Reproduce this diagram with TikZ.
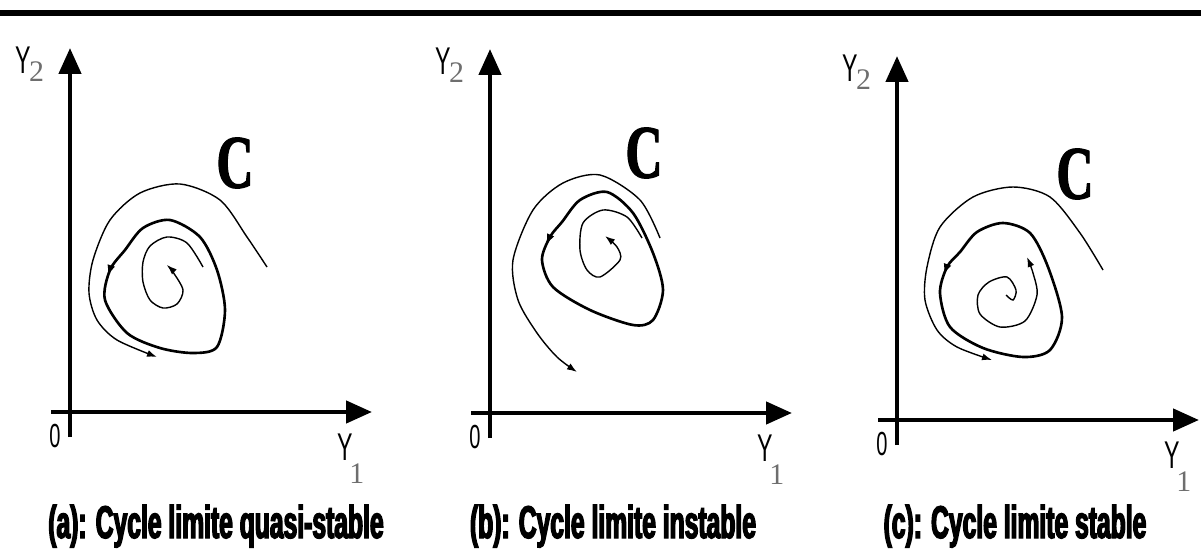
\documentclass[tikz,border=0pt]{standalone}
\usepackage{fontspec}
\usetikzlibrary{arrows.meta,decorations.markings}
\newfontfamily\capfont{Liberation Sans}[FakeStretch=0.54,FakeBold=3]
\newfontfamily\axfont{Liberation Sans}[FakeStretch=0.6]
\newfontfamily\digfont{Liberation Serif}
\newfontfamily\cfont{Liberation Serif}[FakeStretch=0.68,FakeBold=1.5]
\definecolor{subgray}{HTML}{6E6E6E}

\begin{document}
\begin{tikzpicture}[x=0.02cm, y=0.02cm,
  axis/.style={line width=0.09cm, -{Triangle[length=0.52cm,width=0.44cm]}},
  orbit/.style={line width=0.8pt, -{Latex[length=0.2cm,width=0.14cm]}},
  limcycle/.style={line width=1.5pt},
  midarrow/.style={postaction=decorate, decoration={markings, mark=at position #1 with {\arrow{Latex[length=0.22cm,width=0.16cm]}}}},
  lbl/.style={inner sep=0pt},
  caption/.style={inner sep=0pt, anchor=base, font=\capfont\bfseries\fontsize{26}{26}\selectfont}]
  \useasboundingbox (0,0) rectangle (1201,549);
  \draw[line width=0.12cm] (0,536) -- (1201,536);

  % axes and their labels, one set per panel
  \foreach \ox/\oy/\p/\cx/\cy in {70/137/a/165/249, 490/136/b/154/260, 897/129/c/178/246} {
    \begin{scope}[shift={(\ox,\oy)}]
      \draw[axis] (-19,0) -- (302,0);
      \draw[axis] (0,-25) -- (0,364);
      \node[lbl] (zero-\p) at (-15,-24) {\axfont\fontsize{19}{19}\selectfont 0};
      \node[lbl, anchor=base west] (ytwo-\p) at (-55,339)
        {\axfont\fontsize{22}{22}\selectfont Y\kern-1pt\raisebox{-5pt}{\digfont\fontsize{17}{17}\selectfont\color{subgray}2}};
      \node[lbl, anchor=base west] (yone-\p) at (267,-48)
        {\axfont\fontsize{22}{22}\selectfont Y\kern-2pt\raisebox{-13.5pt}{\digfont\fontsize{17}{17}\selectfont\color{subgray}1}};
      \node[lbl] (clab-\p) at (\cx,\cy) {\cfont\bfseries\fontsize{43}{43}\selectfont C};
    \end{scope}
  }

  % (a) quasi-stable
  \begin{scope}[shift={(70,137)}]
    \draw[orbit] plot[smooth] coordinates {(197,145) (177,175) (150,212) (110,228) (70,219) (40,192) (23,152) (19,119) (27,92) (47,72) (87,55)};
    \draw[limcycle, midarrow=0.15] plot[smooth cycle] coordinates {(100,192) (73,184) (55,162) (40,142) (35,112) (57,79) (90,64) (123,59) (147,65) (155,102) (147,142) (130,175)};
    \draw[orbit] plot[smooth] coordinates {(133,145) (117,169) (97,175) (80,166) (73,150) (73,130) (80,112) (93,104) (107,108) (113,122) (103,140) (97,147)};
  \end{scope}

  % (b) instable
  \begin{scope}[shift={(490,136)}]
    \draw[orbit] plot[smooth] coordinates {(170,175) (150,213) (110,238) (73,230) (43,203) (23,153) (28,113) (47,80) (67,56) (87,41)};
    \draw[limcycle, midarrow=0.145] plot[smooth cycle] coordinates {(117,221) (90,213) (72,191) (60,176) (52,153) (63,126) (100,103) (143,88) (163,93) (173,123) (163,160) (143,200)};
    \draw[orbit] plot[smooth] coordinates {(152,175) (137,196) (113,203) (93,190) (90,163) (97,143) (110,136) (130,153) (127,166) (115,177)};
  \end{scope}

  % (c) stable
  \begin{scope}[shift={(897,129)}]
    \draw[orbit] plot[smooth] coordinates {(206,150) (183,187) (153,223) (116,233) (76,223) (43,193) (30,153) (28,120) (40,90) (60,73) (95,60)};
    \draw[limcycle, midarrow=0.136] plot[smooth cycle] coordinates {(106,197) (80,188) (63,168) (50,153) (43,127) (53,93) (86,72) (126,63) (153,70) (165,103) (151,153) (133,187)};
    \draw[orbit] plot[smooth] coordinates {(109,125) (116,120) (119,130) (110,143) (92,138) (81,125) (83,106) (103,93) (128,99) (140,125) (136,147) (130,163)};
  \end{scope}

  \node[caption] (cap-a) at (216,11) {(a): Cycle limite quasi-stable};
  \node[caption] (cap-b) at (613,11) {(b): Cycle limite instable};
  \node[caption] (cap-c) at (1015,11) {(c): Cycle limite stable};
\end{tikzpicture}
\end{document}
